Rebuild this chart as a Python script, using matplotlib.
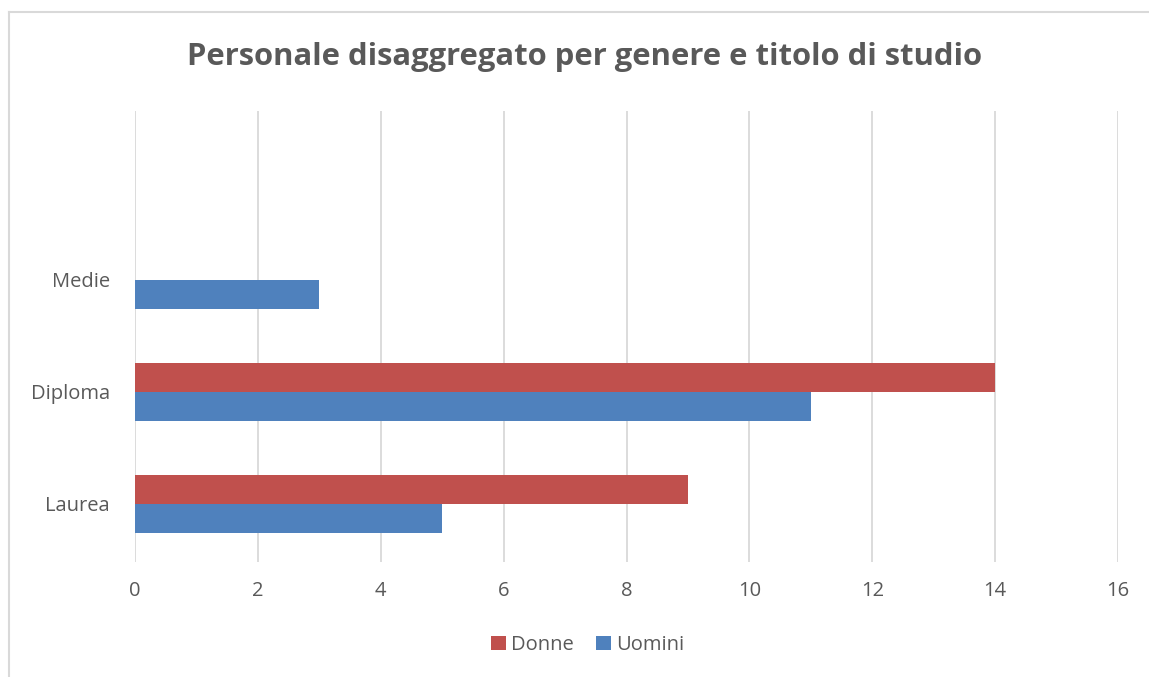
import matplotlib.pyplot as plt
from matplotlib.lines import Line2D
import numpy as np

categories = ['Laurea', 'Diploma', 'Medie', '']
donne = [9, 14, 0, 0]
uomini = [5, 11, 3, 0]

plt.rcParams['font.family'] = ['Open Sans', 'DejaVu Sans']
grey = '#595959'

fig = plt.figure(figsize=(11.49, 6.77), dpi=100)
ax = fig.add_axes([135 / 1149, 1 - 562 / 677, (1118 - 135) / 1149, (562 - 111) / 677])

y = np.arange(len(categories))
h = 0.26
ax.barh(y + h / 2, donne, height=h, color='#C0504D', label='Donne', zorder=3)
ax.barh(y - h / 2, uomini, height=h, color='#4F81BD', label='Uomini', zorder=3)

ax.set_xlim(0, 16)
ax.set_ylim(-0.518, 3.509)
ax.set_xticks(range(0, 17, 2))
ax.set_yticks(y)
ax.set_yticklabels(categories)
ax.tick_params(length=0, labelsize=14.5, labelcolor=grey)
ax.tick_params(axis='y', pad=18)
ax.tick_params(axis='x', pad=14)
ax.grid(axis='x', color='#D9D9D9', linewidth=1.3, zorder=0)
for s in ax.spines.values():
    s.set_visible(False)

fig.text(585 / 1149, 1 - 57 / 677, 'Personale disaggregato per genere e titolo di studio',
         ha='center', va='center', fontsize=22.3, fontweight='bold', color=grey)

fig.legend(loc='center', bbox_to_anchor=(588 / 1149, 1 - 645 / 677), ncol=2, frameon=False,
           fontsize=14.5, labelcolor=grey, handlelength=0.75, handleheight=0.75,
           handletextpad=0.25, columnspacing=1.1)

# chart border (only top and left visible in the crop)
fig.add_artist(Line2D([8.5 / 1149, 8.5 / 1149], [0, 1 - 12 / 677], color='#D9D9D9', lw=1.5))
fig.add_artist(Line2D([8.5 / 1149, 1], [1 - 12 / 677, 1 - 12 / 677], color='#D9D9D9', lw=1.5))

fig.savefig('out.png', dpi=100)
